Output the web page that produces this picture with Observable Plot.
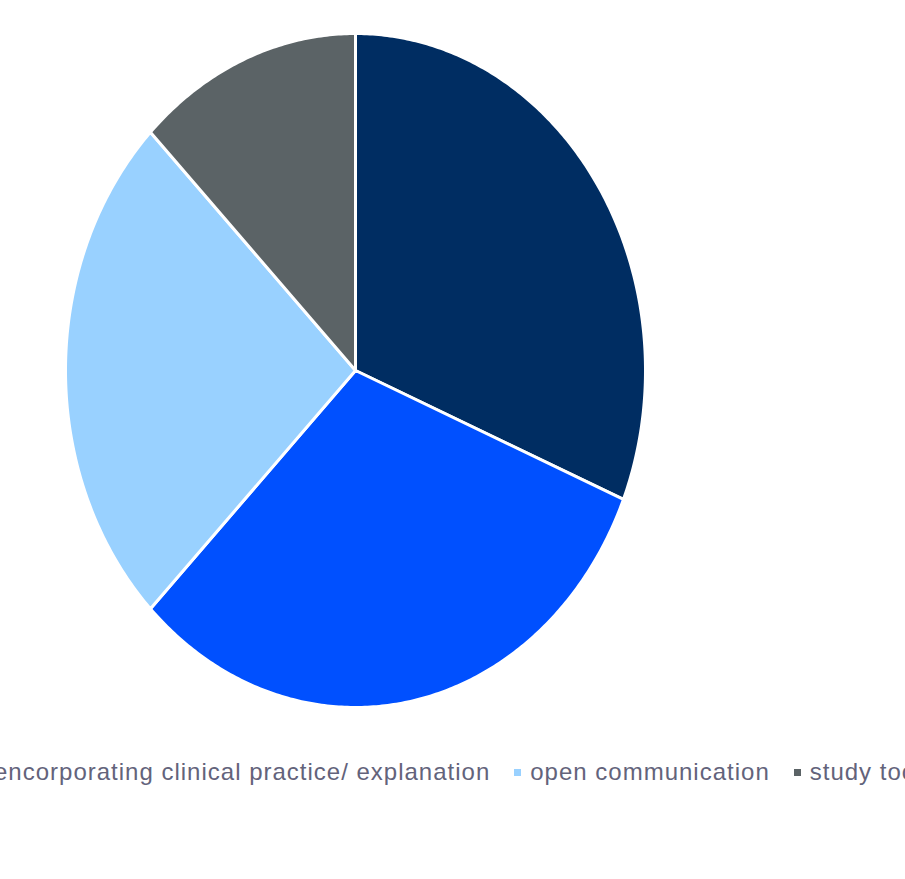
<!DOCTYPE html>
<html>
<head>
<meta charset="utf-8">
<script src="https://cdn.jsdelivr.net/npm/d3@7"></script>
<script src="https://cdn.jsdelivr.net/npm/@observablehq/plot@0.6"></script>
<style>
  html, body { margin: 0; padding: 0; background: #fff; overflow: hidden; width: 905px; height: 879px; }
  #chart { position: absolute; left: 0; top: 0; }
  #legend { position: absolute; top: 757px; left: 0; white-space: nowrap; display: flex; align-items: center;
            font-family: "Liberation Sans", Arial, sans-serif; font-size: 24px; letter-spacing: 1px; color: #63637b;
            line-height: 30px; }
  .item { display: flex; align-items: center; margin-right: 24px; }
  .sw { width: 7px; height: 7px; margin-right: 9px; }
</style>
</head>
<body>
<div id="chart"></div>
<div id="legend"></div>
<script>
const categories = ["clear feedback", "encorporating clinical practice/ explanation", "open communication", "study tools"];
const values = [5, 5, 4, 2];
const colors = ["#002d62", "#0050ff", "#99d1ff", "#5b6366"];

const pie = d3.pie().sort(null).value(d => d.value)(categories.map((c, i) => ({category: c, value: values[i]})));
const pts = [];
pie.forEach(a => {
  const cat = a.data.category;
  pts.push({category: cat, x: 0, y: 0});
  const n = Math.max(2, Math.ceil((a.endAngle - a.startAngle) / 0.01));
  for (let k = 0; k <= n; k++) {
    const t = a.startAngle + (a.endAngle - a.startAngle) * k / n;
    pts.push({category: cat, x: Math.sin(t), y: Math.cos(t)});
  }
});

const plot = Plot.plot({
  width: 905,
  height: 740,
  margin: 0,
  x: {domain: [-1, 1], range: [65, 645], axis: null},
  y: {domain: [-1, 1], range: [707, 33], axis: null},
  color: {domain: categories, range: colors},
  marks: [
    Plot.line(pts, {x: "x", y: "y", z: "category", fill: "category", stroke: "white", strokeWidth: 3, curve: "linear-closed", strokeLinejoin: "round"})
  ]
});
document.getElementById("chart").appendChild(plot);

const legend = document.getElementById("legend");
categories.forEach((c, i) => {
  const it = document.createElement("div");
  it.className = "item";
  const sw = document.createElement("div");
  sw.className = "sw";
  sw.style.background = colors[i];
  const tx = document.createElement("span");
  tx.textContent = c;
  it.appendChild(sw); it.appendChild(tx);
  legend.appendChild(it);
});
const target = legend.children[1].children[1];
const off = target.getBoundingClientRect().left - legend.getBoundingClientRect().left;
legend.style.left = (-6 - off) + "px";
</script>
</body>
</html>
